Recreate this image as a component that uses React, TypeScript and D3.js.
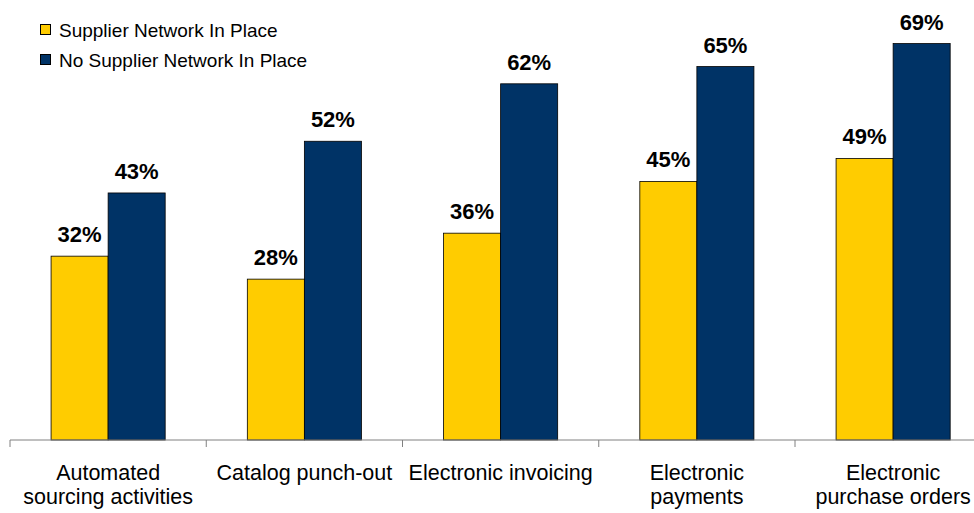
import * as d3 from "d3";

const categories = [
    ["Automated", "sourcing activities"],
    ["Catalog punch-out"],
    ["Electronic invoicing"],
    ["Electronic", "payments"],
    ["Electronic", "purchase orders"],
];
const seriesNames = ["Supplier Network In Place", "No Supplier Network In Place"];
const withNetwork = [32, 28, 36, 45, 49];
const withoutNetwork = [43, 52, 62, 65, 69];
const colors = ["#FFCC00", "#003366"];

export default function App() {
    const width = 974;
    const height = 513;
    const baseY = 440;

    const x = d3.scaleBand<number>()
        .domain(d3.range(categories.length))
        .range([10, 991.25]);
    const inner = d3.scaleBand<number>()
        .domain([0, 1])
        .range([0, x.bandwidth()])
        .paddingOuter(0.72)
        .paddingInner(0);
    const y = d3.scaleLinear().domain([0, 70]).range([baseY, baseY - 70 * 5.745]);

    const series = [withNetwork, withoutNetwork];
    const font = "Arial, 'Liberation Sans', sans-serif";

    return (
        <svg width={width} height={height} style={{position: "absolute", left: 0, top: 0}} fontFamily={font}>
            {series.map((vals, s) => (
                <g key={s}>
                    {vals.map((v, i) => {
                        const bx = x(i)! + inner(s)!;
                        return (
                            <g key={i}>
                                <rect x={bx} y={y(v)} width={inner.bandwidth()} height={baseY - y(v)}
                                      fill={colors[s]} stroke="#000" strokeWidth={0.8}/>
                                <text x={bx + inner.bandwidth() / 2} y={y(v) - 14} textAnchor="middle"
                                      fontSize={22} fontWeight="bold" fill="#000">{v}%</text>
                            </g>
                        );
                    })}
                </g>
            ))}
            <line x1={10} x2={width} y1={baseY} y2={baseY} stroke="#808080" strokeWidth={1}/>
            {d3.range(categories.length + 1).map(i => {
                const tx = i < categories.length ? x(i)! : 10 + x.step() * i;
                return <line key={i} x1={tx} x2={tx} y1={baseY} y2={baseY + 7} stroke="#808080"/>;
            })}
            {categories.map((lines, i) => (
                <text key={i} x={x(i)! + x.bandwidth() / 2} y={480}
                      textAnchor="middle" fontSize={21.5} fill="#000">
                    {lines.map((l, j) => (
                        <tspan key={j} x={x(i)! + x.bandwidth() / 2} dy={j === 0 ? 0 : 23.5}>{l}</tspan>
                    ))}
                </text>
            ))}
            {seriesNames.map((n, i) => (
                <g key={i} transform={`translate(40, ${24 + i * 30})`}>
                    <rect x={0.5} y={0.5} width={10} height={10} fill={colors[i]} stroke="#000" strokeWidth={1}/>
                    <text x={19} y={12.5} fontSize={19} fill="#000">{n}</text>
                </g>
            ))}
        </svg>
    );
}
